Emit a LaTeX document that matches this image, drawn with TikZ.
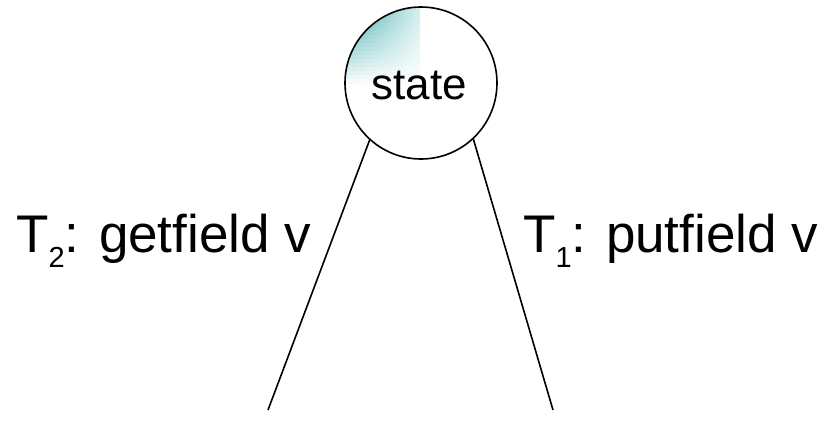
\documentclass[tikz,border=0pt]{standalone}
\usepackage{fontspec}
\setmainfont{Liberation Sans}
\definecolor{tealshade}{RGB}{60,170,170}
\newcommand{\lowsub}[1]{\raisebox{-15pt}{\fontsize{29}{30}\selectfont #1}}
\tikzset{
  lbl/.style={font=\fontsize{53}{56}\selectfont, inner sep=0pt, anchor=base west},
  statelbl/.style={font=\fontsize{44}{48}\selectfont, inner sep=0pt, anchor=base},
  edge/.style={line width=1.6pt, black}
}
\begin{document}
\begin{tikzpicture}[x=1pt,y=-1pt]
\useasboundingbox (0,0) rectangle (825,423);
\begin{scope}
  \clip (421,83) circle (76);
  \foreach \i in {0,...,18} {
    \pgfmathsetmacro{\k}{100*(1-\i/19)}
    \pgfmathsetmacro{\m}{0.2*\k}
    \shade[left color=tealshade!\k!white, right color=tealshade!\m!white]
      (345,{7+4*\i}) rectangle (420,{7+4*\i+4.3});
  }
\end{scope}
\node[draw, circle, line width=1.6pt, minimum size=152pt, inner sep=0pt] (c) at (421,83) {};
\node[statelbl] (st) at (419,99) {state};
\coordinate (bl) at (268,410);
\coordinate (br) at (553,410);
\draw[edge] (c.-132) -- (bl);
\draw[edge] (c.-47) -- (br);
\node[lbl] (l2) at (16,252) {T\lowsub{2}: getfield v};
\node[lbl] (l1) at (523,252) {T\lowsub{1}: putfield v};
\end{tikzpicture}
\end{document}
